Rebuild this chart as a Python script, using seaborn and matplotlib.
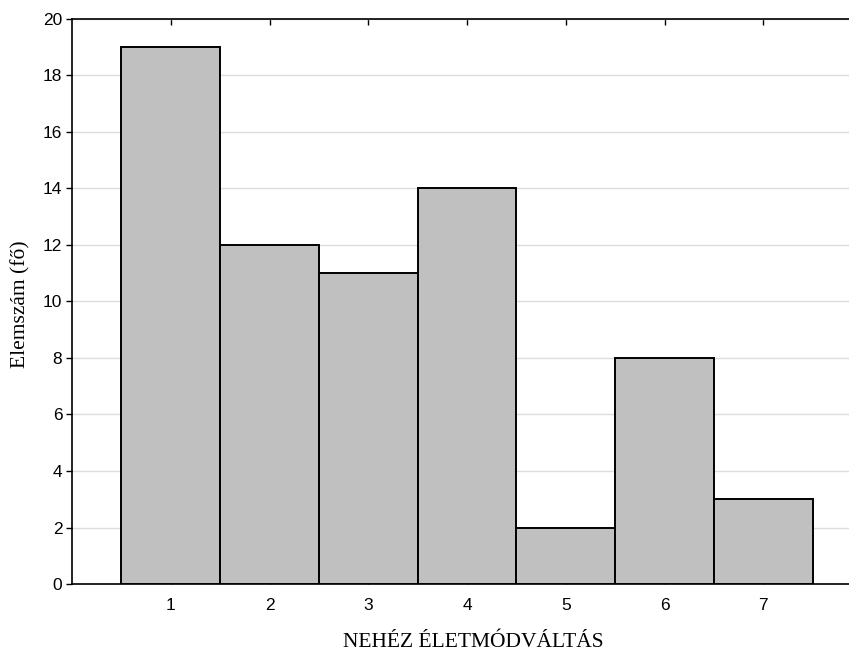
import matplotlib
matplotlib.use("Agg")
import matplotlib.pyplot as plt
import seaborn as sns
import pandas as pd

categories = ["1", "2", "3", "4", "5", "6", "7"]
counts = [19, 12, 11, 14, 2, 8, 3]
y_ticks = [0, 2, 4, 6, 8, 10, 12, 14, 16, 18, 20]
x_label = "NEHÉZ ÉLETMÓDVÁLTÁS"
y_label = "Elemszám (fő)"

sns.set_theme(style="white")
plt.rcParams["font.family"] = ["Liberation Sans", "DejaVu Sans"]

df = pd.DataFrame({"kategoria": categories, "elemszam": counts})

fig = plt.figure(figsize=(8.49, 6.51), dpi=100)
# plot area runs a little past the right border of the canvas
ax = fig.add_axes([72 / 849, 67 / 651, 790 / 849, 565 / 651])

sns.barplot(data=df, x="kategoria", y="elemszam", order=categories,
            color="#c0c0c0", saturation=1, width=1.0,
            edgecolor="black", linewidth=1.4, ax=ax, zorder=3)

ax.set_xlim(-1, 7)
ax.set_ylim(0, 20)
ax.set_yticks(y_ticks)
ax.yaxis.grid(True, color="#dcdcdc", linewidth=1, zorder=0)
ax.xaxis.grid(False)
ax.set_axisbelow(True)

for side in ["left", "bottom", "top"]:
    ax.spines[side].set_visible(True)
    ax.spines[side].set_color("black")
    ax.spines[side].set_linewidth(1.2)
ax.spines["right"].set_visible(False)

ax.tick_params(axis="y", direction="out", length=4, width=1, color="black",
               labelsize=12.5, labelcolor="black", pad=3, left=True)
ax.tick_params(axis="x", direction="in", length=4, width=1, color="black",
               labelsize=12.5, labelcolor="black", pad=10,
               bottom=True, top=True)

ax.set_xlabel(x_label, family="Liberation Serif", fontsize=15.5,
              color="black")
ax.set_ylabel(y_label, family="Liberation Serif", fontsize=15.5,
              color="black")
ax.xaxis.label.set_verticalalignment("baseline")
ax.xaxis.set_label_coords(401 / 790, -63 / 565)
ax.yaxis.label.set_verticalalignment("center")
ax.yaxis.set_label_coords(-51 / 790, 280 / 565)

fig.savefig("out.png", dpi=100)
